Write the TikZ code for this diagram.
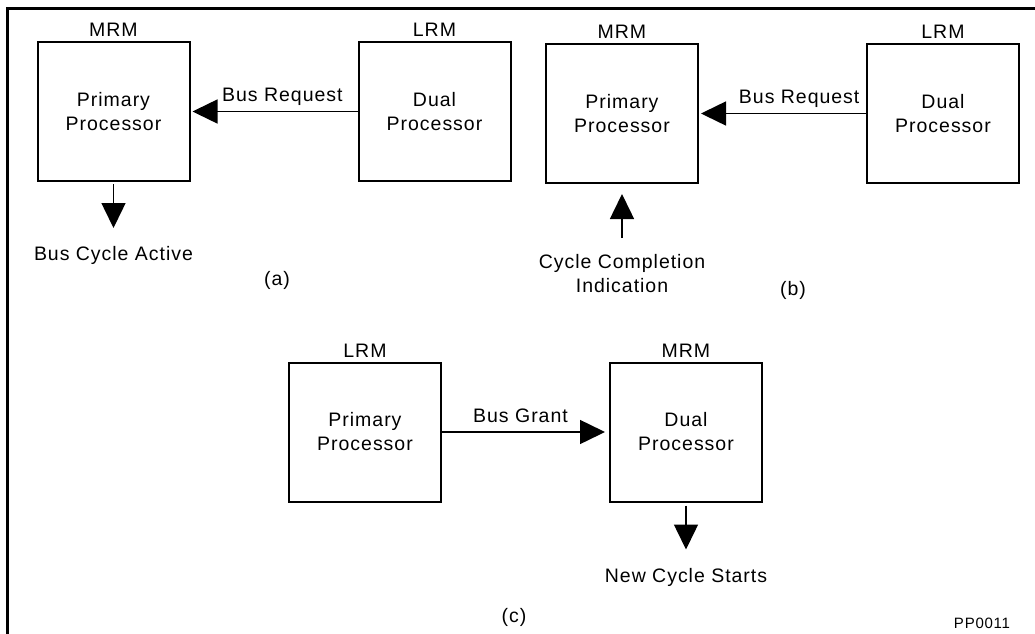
\documentclass[tikz,border=0pt]{standalone}
\usepackage{fontspec}
\setmainfont{Liberation Sans}[LetterSpace=5]
\usetikzlibrary{arrows.meta}
\usetikzlibrary{positioning}
\tikzset {
  % processor box
  unit/.style = {
    draw = black,
    line width = 1pt,
    rectangle,
    minimum width = 76pt,
    minimum height = 69.5pt,
    align = center,
    inner sep = 0
  },
  % MRM / LRM tag above a box
  role/.style = {
    inner sep = 0
  },
  % signal text below a box
  signal/.style = {
    inner sep = 0,
    align = center
  },
  % text on a bus line
  buslabel/.style = {
    inner sep = 0,
    text depth = 0pt
  },
  node distance = 83.5pt
}
\tikzset {
  bus/.style = {
    draw = black,
    line width = 0.75pt,
    -{Triangle[length=12.5pt,width=12pt]}
  },
  frame/.style = {
    draw = black,
    line width = 1.5pt
  }
}
\begin{document}
\begin{tikzpicture}[x=0.5pt, y=-0.5pt, font=\fontsize{9.75}{12}\selectfont]
    \useasboundingbox (0,0) rectangle (1035,633);
    \draw[frame] (7,645) -- (7,8) -- (1045,8);

    % (a)
    \node[unit] (prim-a) at (113.5,111.5) {Primary\\Processor};
    \node[unit, right=of prim-a] (dual-a) {Dual\\Processor};
    \node[role, above=2pt of prim-a] (mrm-a) {MRM};
    \node[role, above=2pt of dual-a] (lrm-a) {LRM};
    \node[signal, below=32pt of prim-a] (act-a) {Bus Cycle Active};
    \node (cap-a) at (277,280) {(a)};

    \draw[bus, shorten >=1pt] (dual-a) -- node[buslabel, above=4.5pt, pos=.45] {Bus Request} (prim-a);
    \draw[bus, shorten <=1pt, shorten >=9pt] (prim-a) -- (act-a);

    % (b)
    \node[unit] (prim-b) at (622,113.5) {Primary\\Processor};
    \node[unit, right=of prim-b] (dual-b) {Dual\\Processor};
    \node[role, above=2pt of prim-b] (mrm-b) {MRM};
    \node[role, above=2pt of dual-b] (lrm-b) {LRM};
    \node[signal, below=35pt of prim-b] (cmp-b) {Cycle Completion\\Indication};
    \node (cap-b) at (793,290) {(b)};

    \draw[bus, shorten >=1pt] (dual-b) -- node[buslabel, above=4.5pt, pos=.4] {Bus Request} (prim-b);
    \draw[bus, shorten <=8pt, shorten >=5pt] (cmp-b.north -| prim-b.south) -- (prim-b.south);

    % (c)
    \node[unit] (prim-c) at (365,432) {Primary\\Processor};
    \node[unit, right=of prim-c] (dual-c) {Dual\\Processor};
    \node[role, above=2pt of prim-c] (lrm-c) {LRM};
    \node[role, above=2pt of dual-c] (mrm-c) {MRM};
    \node[signal, below=32.5pt of dual-c] (new-c) {New Cycle Starts};
    \node (cap-c) at (514,617) {(c)};
    \node[font=\fontsize{7.5}{9}\selectfont] (fig-id) at (982,623) {PP0011};

    \draw[bus, shorten >=2pt] (prim-c) -- node[buslabel, above=4.5pt, pos=.47] {Bus Grant} (dual-c);
    \draw[bus, shorten <=1.5pt, shorten >=9pt] (dual-c) -- (new-c);
\end{tikzpicture}
\end{document}
